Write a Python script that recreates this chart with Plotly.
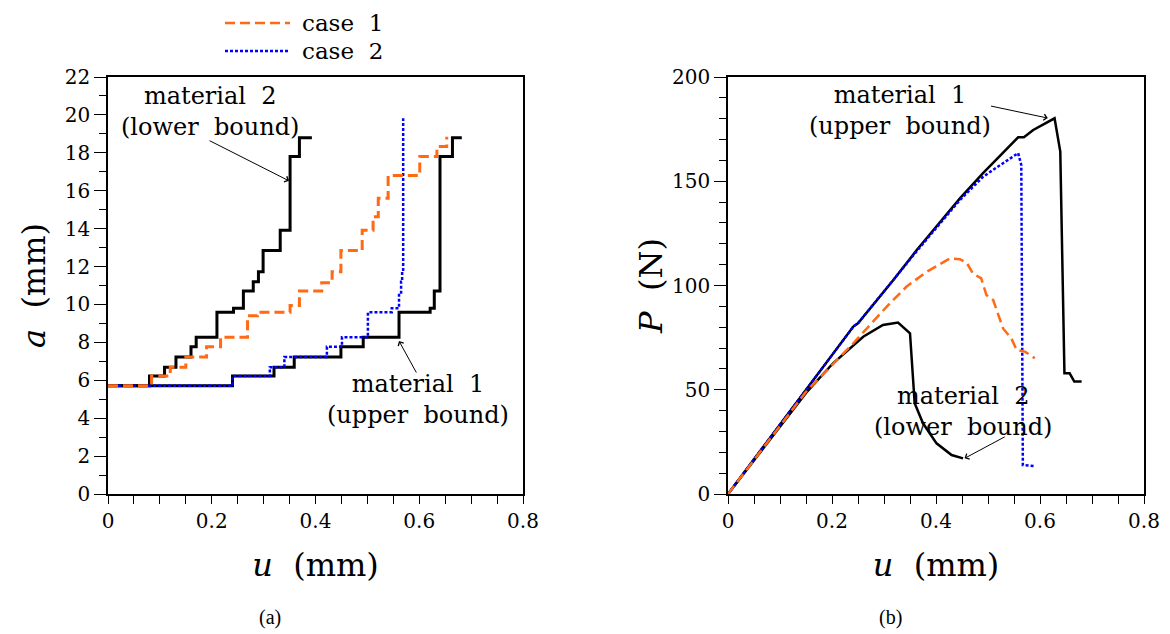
import plotly.graph_objects as go
from plotly.subplots import make_subplots

# ---- panel (a): crack length a vs displacement u (step curves)
mat2_u = [0, 0.080, 0.109, 0.131, 0.160, 0.170, 0.210, 0.242, 0.261, 0.280, 0.290, 0.299, 0.332, 0.351, 0.369, 0.393]
mat2_a = [5.71, 6.22, 6.69, 7.23, 7.77, 8.27, 9.59, 9.80, 10.71, 11.20, 11.73, 12.84, 13.91, 17.80, 18.80, 18.80]

mat1_u = [0, 0.240, 0.320, 0.359, 0.449, 0.492, 0.561, 0.621, 0.629, 0.640, 0.664, 0.682]
mat1_a = [5.71, 6.22, 6.69, 7.23, 7.77, 8.27, 9.59, 9.80, 10.71, 17.80, 18.80, 18.80]

case1_u = [0, 0.084, 0.120, 0.150, 0.190, 0.217, 0.269, 0.288, 0.351, 0.369, 0.412, 0.432, 0.449,
           0.490, 0.511, 0.521, 0.540, 0.601, 0.634, 0.653]
case1_a = [5.71, 6.22, 6.69, 7.23, 7.77, 8.27, 9.40, 9.59, 9.94, 10.71, 11.15, 11.73, 12.84,
           13.91, 14.63, 15.60, 16.80, 17.80, 18.33, 18.85]

case2_u = [0, 0.240, 0.312, 0.340, 0.422, 0.451, 0.501, 0.547, 0.561, 0.565, 0.567, 0.569]
case2_a = [5.71, 6.22, 6.69, 7.23, 7.77, 8.27, 9.59, 9.80, 10.50, 11.20, 11.73, 19.83]

# ---- panel (b): load P vs displacement u
mat1_pu = [0, 0.241, 0.250, 0.318, 0.363, 0.446, 0.490, 0.558, 0.569, 0.587, 0.628, 0.639, 0.647, 0.657, 0.666, 0.680]
mat1_P = [0, 80.3, 81.9, 102.6, 117.0, 141.8, 153.8, 171.1, 171.1, 174.6, 180.2, 164.2, 57.9, 57.9, 53.9, 53.9]

case2_pu = [0, 0.241, 0.250, 0.318, 0.363, 0.446, 0.490, 0.510, 0.558, 0.564, 0.567, 0.590]
case2_P = [0, 80.3, 81.9, 102.6, 116.5, 141.0, 152.0, 155.5, 163.5, 157.8, 13.9, 13.4]

mat2_pu = [0, 0.150, 0.202, 0.260, 0.298, 0.327, 0.350, 0.359, 0.375, 0.401, 0.430, 0.452]
mat2_P = [0, 48.5, 62.7, 75.4, 81.1, 82.2, 77.1, 43.5, 33.9, 24.3, 18.7, 17.1]

case1_pu = [0, 0.150, 0.241, 0.305, 0.343, 0.382, 0.427, 0.446, 0.459, 0.471, 0.487, 0.497,
            0.510, 0.529, 0.545, 0.555, 0.571, 0.590]
case1_P = [0, 49.0, 72.3, 89.8, 99.4, 106.6, 113.0, 112.6, 110.9, 105.8, 103.4, 95.4,
           93.0, 79.4, 74.6, 69.1, 68.3, 65.1]

SERIF = "DejaVu Serif"
ORANGE = "#ff6a13"
BLUE = "#0000ff"
DASH = "10px,5px"
DOT = "3px,2px"

fig = make_subplots(rows=1, cols=2)

# left panel
fig.add_trace(go.Scatter(x=mat2_u, y=mat2_a, mode="lines", line=dict(color="black", width=3, shape="hv")), 1, 1)
fig.add_trace(go.Scatter(x=mat1_u, y=mat1_a, mode="lines", line=dict(color="black", width=3, shape="hv")), 1, 1)
fig.add_trace(go.Scatter(x=case2_u, y=case2_a, mode="lines", line=dict(color=BLUE, width=2.5, dash=DOT, shape="hv")), 1, 1)
fig.add_trace(go.Scatter(x=case1_u, y=case1_a, mode="lines", line=dict(color=ORANGE, width=3, dash=DASH, shape="hv")), 1, 1)

# right panel
fig.add_trace(go.Scatter(x=mat1_pu, y=mat1_P, mode="lines", line=dict(color="black", width=2.5)), 1, 2)
fig.add_trace(go.Scatter(x=mat2_pu, y=mat2_P, mode="lines", line=dict(color="black", width=2.5)), 1, 2)
fig.add_trace(go.Scatter(x=case2_pu, y=case2_P, mode="lines", line=dict(color=BLUE, width=2.5, dash=DOT)), 1, 2)
fig.add_trace(go.Scatter(x=case1_pu, y=case1_P, mode="lines", line=dict(color=ORANGE, width=2.5, dash=DASH)), 1, 2)

W, H = 1170, 634
OX, OY = 8, 8  # page body margin


def px_x(p):
    return (p - OX) / W


def px_y(p):
    return 1 - (p - OY) / H


ax_common = dict(showline=True, linecolor="black", linewidth=1.5, mirror=True, showgrid=False,
                 zeroline=False, ticks="outside", tickcolor="black", automargin=False,
                 tickfont=dict(family=SERIF, size=20, color="black"))
title_font = dict(family=SERIF, size=32, color="black")

fig.update_xaxes(**ax_common, range=[0, 0.8], tickvals=[0, 0.2, 0.4, 0.6, 0.8],
                 ticktext=["0", "0.2", "0.4", "0.6", "0.8"], tickangle=0, ticklen=8,
                 minor=dict(dtick=0.05, ticklen=8, ticks="outside", tickcolor="black", showgrid=False),
                 title=dict(text="<i>u</i>  (mm)", font=title_font, standoff=22))
fig.update_yaxes(**ax_common, ticklen=12)
fig.update_yaxes(range=[0, 22], dtick=2,
                 minor=dict(dtick=1, ticklen=7, ticks="outside", tickcolor="black", showgrid=False),
                 title=dict(text="<i>a</i>  (mm)", font=title_font, standoff=10),
                 row=1, col=1)
fig.update_yaxes(range=[0, 200], dtick=50,
                 minor=dict(dtick=10, ticklen=7, ticks="outside", tickcolor="black", showgrid=False),
                 title=dict(text="<i>P</i>  (N)", font=title_font, standoff=0),
                 row=1, col=2)

fig.update_layout(
    xaxis=dict(domain=[px_x(108), px_x(523)]),
    xaxis2=dict(domain=[px_x(728), px_x(1144)]),
    yaxis=dict(domain=[px_y(494), px_y(77)]),
    yaxis2=dict(domain=[px_y(494), px_y(77)]),
    width=W, height=H,
    margin=dict(l=0, r=0, t=0, b=0),
    paper_bgcolor="white", plot_bgcolor="white",
    showlegend=False,
)

ann_font = dict(family=SERIF, size=24, color="black")


def label(text, x, y, xref, yref):
    fig.add_annotation(text=text, x=x, y=y, xref=xref, yref=yref, showarrow=False,
                       xanchor="center", yanchor="middle", font=ann_font, align="center")


def arrow(x0, y0, x1, y1, xref, yref):
    fig.add_annotation(text="", x=x1, y=y1, ax=x0, ay=y0, xref=xref, yref=yref,
                       axref=xref, ayref=yref, showarrow=True, arrowhead=4,
                       arrowsize=1.2, arrowwidth=1, arrowcolor="black", standoff=0)


# panel (a) labels
label("material  2<br>(lower  bound)", 0.197, 20.2, "x", "y")
arrow(0.193, 18.68, 0.349, 16.52, "x", "y")
label("material  1<br>(upper  bound)", 0.598, 5.0, "x", "y")
arrow(0.596, 6.33, 0.561, 8.07, "x", "y")

# panel (b) labels
label("material  1<br>(upper  bound)", 0.330, 183.8, "x2", "y2")
arrow(0.503, 186.2, 0.615, 180.3, "x2", "y2")
label("material  2<br>(lower  bound)", 0.451, 39.8, "x2", "y2")
arrow(0.535, 27.8, 0.455, 17.1, "x2", "y2")

# legend drawn by hand (long line samples)
leg = [("case  1", ORANGE, DASH, 23), ("case  2", BLUE, DOT, 51)]
for txt, col, dash, ypx in leg:
    fig.add_shape(type="line", xref="paper", yref="paper", x0=px_x(225), x1=px_x(290),
                  y0=px_y(ypx), y1=px_y(ypx), line=dict(color=col, width=2.5, dash=dash))
    fig.add_annotation(text=txt, xref="paper", yref="paper", x=px_x(300), y=px_y(ypx),
                       xanchor="left", yanchor="middle", showarrow=False,
                       font=dict(family=SERIF, size=23, color="black"))

# panel captions
for txt, xpx in [("(a)", 270), ("(b)", 890)]:
    fig.add_annotation(text=txt, xref="paper", yref="paper", x=px_x(xpx), y=px_y(617),
                       xanchor="center", yanchor="middle", showarrow=False,
                       font=dict(family="Liberation Serif", size=20, color="black"))

fig.write_html("out.html")
